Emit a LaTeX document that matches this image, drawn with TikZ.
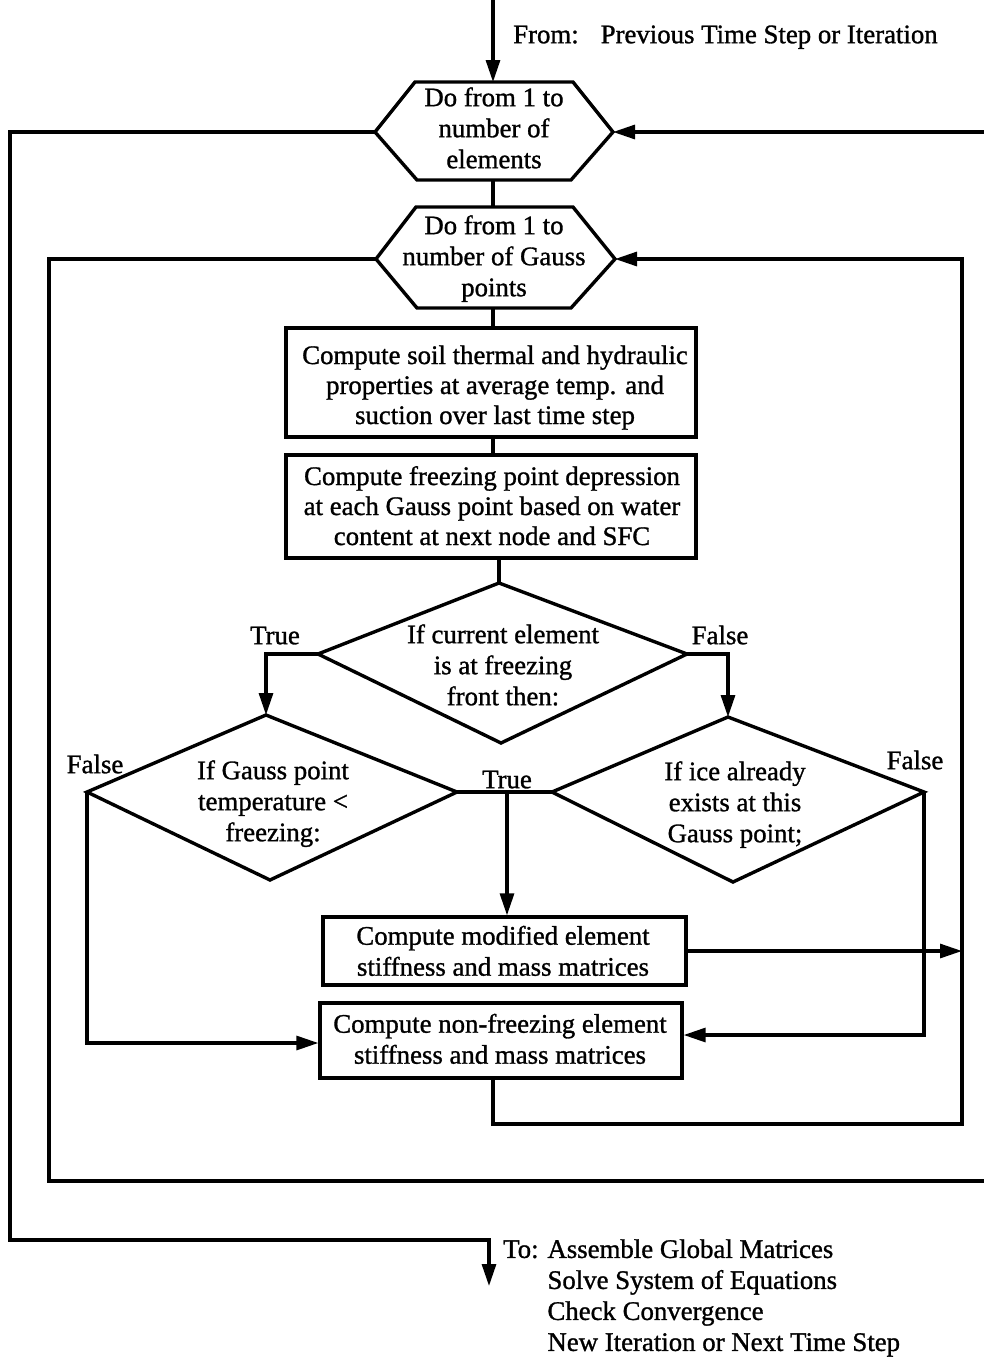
\documentclass[tikz,border=0pt]{standalone}
\usepackage{fontspec}
\setmainfont{Liberation Serif}
\newfontfamily\heavyserif{Liberation Serif}[FakeBold=1.1]
\usetikzlibrary{arrows.meta}
\begin{document}
\begin{tikzpicture}[x=1pt,y=-1pt,
  txt/.style={inner sep=0pt, align=center, font=\heavyserif\fontsize{26.8}{31}\selectfont},
  txtb/.style={inner sep=0pt, align=center, font=\heavyserif\fontsize{26.8}{30}\selectfont},
  shp/.style={line width=3.4pt, line join=miter},
  conn/.style={line width=3.1pt},
  arr/.style={conn, -{Triangle[length=22pt,width=14pt]}},
  boxn/.style={draw, line width=3.3pt, inner sep=0pt},
]
\useasboundingbox (0,0) rectangle (984,1358);

% ---------- hexagon 1
\coordinate (h1TL) at (415,82);
\coordinate (h1TR) at (573,82);
\coordinate (h1R) at (613,132);
\coordinate (h1BR) at (571,180);
\coordinate (h1BL) at (417,180);
\coordinate (h1L) at (375,132);
\coordinate (h1T) at (493,82);
\coordinate (h1B) at (493,180);
\draw[shp] (h1TL)--(h1TR)--(h1R)--(h1BR)--(h1BL)--(h1L)--cycle;
\node[txt] (h1) at (494,131) {Do from 1 to\strut\\number of\strut\\elements\strut};

% ---------- hexagon 2
\coordinate (h2TL) at (416,207);
\coordinate (h2TR) at (573,207);
\coordinate (h2R) at (615,259);
\coordinate (h2BR) at (571,308);
\coordinate (h2BL) at (417,308);
\coordinate (h2L) at (376,259);
\coordinate (h2T) at (493,207);
\coordinate (h2B) at (493,308);
\draw[shp] (h2TL)--(h2TR)--(h2R)--(h2BR)--(h2BL)--(h2L)--cycle;
\node[txt] (h2) at (494,259) {Do from 1 to\strut\\number of Gauss\strut\\points\strut};

% ---------- boxes
\node[boxn, minimum width=410pt, minimum height=109pt] (b1) at (491,382.5) {};
\node[txtb] (t1) at (495,388) {Compute soil thermal and hydraulic\strut\\properties at average temp. and\strut\\suction over last time step\strut};
\node[boxn, minimum width=410pt, minimum height=103pt] (b2) at (491,506.5) {};
\node[txtb] (t2) at (492,509) {Compute freezing point depression\strut\\at each Gauss point based on water\strut\\content at next node and SFC\strut};

% ---------- diamond 1
\coordinate (d1T) at (499,583);
\coordinate (d1L) at (318,654);
\coordinate (d1R) at (687,654);
\coordinate (d1B) at (501,743);
\draw[shp] (d1T)--(d1R)--(d1B)--(d1L)--cycle;
\node[txt] (d1) at (503,668) {If current element\strut\\is at freezing\strut\\front then:\strut};

% ---------- diamond 2
\coordinate (d2T) at (266,715);
\coordinate (d2L) at (87,792);
\coordinate (d2R) at (457,792);
\coordinate (d2B) at (270,880);
\draw[shp] (d2T)--(d2R)--(d2B)--(d2L)--cycle;
\node[txt] (d2) at (273,804) {If Gauss point\strut\\temperature <\strut\\freezing:\strut};

% ---------- diamond 3
\coordinate (d3T) at (728,717);
\coordinate (d3L) at (552,792);
\coordinate (d3R) at (924,792);
\coordinate (d3B) at (733,882);
\draw[shp] (d3T)--(d3R)--(d3B)--(d3L)--cycle;
\node[txt] (d3) at (735,805) {If ice already\strut\\exists at this\strut\\Gauss point;\strut};

% ---------- boxes 3, 4
\node[boxn, minimum width=363pt, minimum height=68pt] (b3) at (504.5,951) {};
\node[txt] (t3) at (503,954) {Compute modified element\strut\\stiffness and mass matrices\strut};
\node[boxn, minimum width=362pt, minimum height=75pt] (b4) at (501,1040.5) {};
\node[txt] (t4) at (500,1042) {Compute non-freezing element\strut\\stiffness and mass matrices\strut};

% ---------- helper coordinates
\coordinate (src) at (493,-4);
\coordinate (jT) at (507,792);
\coordinate (iR) at (962,259);
\coordinate (iL) at (49,1181);
\coordinate (iRb) at (992,1181);
\coordinate (oR) at (992,132);
\coordinate (oL) at (10,1240);
\coordinate (outEnd) at (489,1286);
\coordinate (b4out) at (493,1078);
\coordinate (b4low) at (493,1124);

% ---------- connectors
\draw[arr] (src) -- (h1T);
\draw[conn] (h1B) -- (h2T);
\draw[conn] (h2B) -- (h2B |- b1.north);
\draw[conn] (h2B |- b1.south) -- (h2B |- b2.north);
\draw[conn] (d1T |- b2.south) -- (d1T);
\draw[arr] (d1L) -| (d2T);
\draw[arr] (d1R) -| (d3T);
\draw[conn] (d2R) -- (d3L);
\draw[arr] (jT) -- (jT |- b3.north);
\draw[arr] (d2L) |- ([yshift=-2.5pt]b4.west);
\draw[arr] (d3R) |- ([yshift=5.5pt]b4.east);
\draw[arr] (b3.east) -- (b3.east -| iR);
\draw[arr] (b4out) -- (b4low) -| (iR) -- (h2R);
\draw[conn] (h2L) -| (iL) -- (iRb);
\draw[arr] (oR) -- (h1R);
\draw[arr] (h1L) -| (oL) -| (outEnd);

% ---------- labels
\node[txt] (lT1) at (275,638) {True\strut};
\node[txt] (lF1) at (720,638) {False\strut};
\node[txt] (lF2) at (95,767) {False\strut};
\node[txt] (lT2) at (507,782) {True\strut};
\node[txt] (lF3) at (915,763) {False\strut};

\node[txt, anchor=west] (from) at (513,37) {From:\hspace{22pt}Previous Time Step or Iteration\strut};
\node[txt, anchor=north west, align=left] (to) at (503,1236) {To: Assemble Global Matrices\strut\\\hphantom{To: }Solve System of Equations\strut\\\hphantom{To: }Check Convergence\strut\\\hphantom{To: }New Iteration or Next Time Step\strut};
\end{tikzpicture}
\end{document}
